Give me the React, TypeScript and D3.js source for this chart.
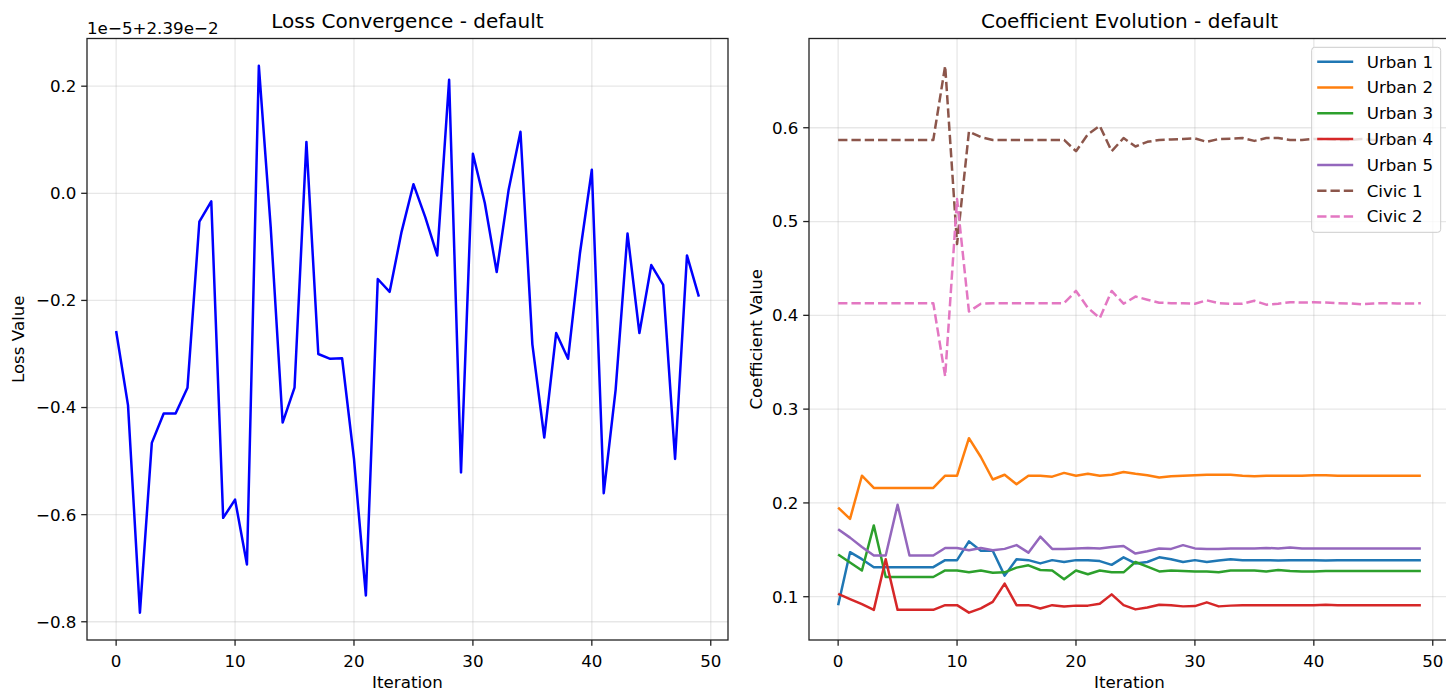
import React, { useEffect } from 'react';
import * as d3 from 'd3';

// iteration index 0..49
const iterations = d3.range(50);

// loss values shown in offset units: loss = 2.39e-2 + v * 1e-5
const lossOffset = [
  -0.257, -0.396, -0.783, -0.466, -0.411, -0.411, -0.363, -0.053, -0.015, -0.606,
  -0.572, -0.693, 0.238, -0.064, -0.428, -0.363, 0.096, -0.300, -0.309, -0.308,
  -0.496, -0.751, -0.160, -0.184, -0.072, 0.017, -0.045, -0.116, 0.212, -0.521,
  0.074, -0.018, -0.147, 0.006, 0.115, -0.282, -0.456, -0.261, -0.309, -0.112,
  0.044, -0.560, -0.367, -0.075, -0.261, -0.134, -0.171, -0.496, -0.116, -0.193,
];

const urban1 = [
  0.091, 0.1475, 0.140, 0.1315, 0.1315, 0.1315, 0.1315, 0.1315, 0.1315, 0.139,
  0.139, 0.159, 0.149, 0.149, 0.1225, 0.140, 0.139, 0.1355, 0.139, 0.137,
  0.139, 0.139, 0.138, 0.134, 0.142, 0.1355, 0.137, 0.142, 0.140, 0.137,
  0.139, 0.137, 0.1385, 0.140, 0.139, 0.139, 0.139, 0.1385, 0.139, 0.139,
  0.139, 0.1385, 0.139, 0.139, 0.139, 0.139, 0.139, 0.139, 0.139, 0.139,
];
const urban2 = [
  0.195, 0.183, 0.229, 0.216, 0.216, 0.216, 0.216, 0.216, 0.216, 0.229,
  0.229, 0.269, 0.249, 0.225, 0.230, 0.220, 0.229, 0.229, 0.228, 0.232,
  0.229, 0.231, 0.229, 0.230, 0.233, 0.231, 0.2295, 0.227, 0.2285, 0.229,
  0.2295, 0.230, 0.230, 0.230, 0.229, 0.2285, 0.229, 0.229, 0.229, 0.229,
  0.2295, 0.2295, 0.229, 0.229, 0.229, 0.229, 0.229, 0.229, 0.229, 0.229,
];
const urban3 = [
  0.145, 0.1365, 0.128, 0.176, 0.121, 0.121, 0.121, 0.121, 0.121, 0.128,
  0.128, 0.126, 0.128, 0.1255, 0.126, 0.131, 0.1335, 0.1285, 0.128, 0.1185,
  0.128, 0.124, 0.128, 0.126, 0.126, 0.137, 0.132, 0.127, 0.128, 0.1275,
  0.127, 0.127, 0.126, 0.128, 0.128, 0.128, 0.127, 0.1285, 0.1275, 0.127,
  0.127, 0.1275, 0.1275, 0.1275, 0.1275, 0.1275, 0.1275, 0.1275, 0.1275, 0.1275,
];
const urban4 = [
  0.103, 0.0975, 0.092, 0.086, 0.140, 0.086, 0.086, 0.086, 0.086, 0.091,
  0.091, 0.083, 0.0875, 0.0945, 0.114, 0.091, 0.091, 0.0875, 0.091, 0.0895,
  0.0905, 0.0905, 0.0925, 0.1025, 0.091, 0.0865, 0.0885, 0.0915, 0.091, 0.0897,
  0.090, 0.094, 0.0897, 0.0905, 0.091, 0.091, 0.091, 0.091, 0.091, 0.091,
  0.091, 0.0915, 0.091, 0.091, 0.091, 0.091, 0.091, 0.091, 0.091, 0.091,
];
const urban5 = [
  0.172, 0.163, 0.153, 0.144, 0.144, 0.198, 0.144, 0.144, 0.144, 0.152,
  0.152, 0.1495, 0.152, 0.1495, 0.151, 0.155, 0.147, 0.164, 0.151, 0.151,
  0.1515, 0.152, 0.1515, 0.153, 0.154, 0.146, 0.1485, 0.1515, 0.151, 0.155,
  0.1515, 0.151, 0.151, 0.1515, 0.1515, 0.1515, 0.152, 0.1515, 0.1525, 0.1515,
  0.1515, 0.1515, 0.1515, 0.1515, 0.1515, 0.1515, 0.1515, 0.1515, 0.1515, 0.1515,
];
const civic1 = [
  0.587, 0.587, 0.587, 0.587, 0.587, 0.587, 0.587, 0.587, 0.587, 0.666,
  0.476, 0.596, 0.590, 0.587, 0.587, 0.587, 0.587, 0.587, 0.587, 0.587,
  0.575, 0.593, 0.602, 0.575, 0.589, 0.580, 0.585, 0.587, 0.5875, 0.588,
  0.5886, 0.585, 0.588, 0.5883, 0.589, 0.586, 0.589, 0.589, 0.587, 0.587,
  0.588, 0.588, 0.587, 0.587, 0.588, 0.587, 0.587, 0.588, 0.587, 0.587,
];
const civic2 = [
  0.413, 0.413, 0.413, 0.413, 0.413, 0.413, 0.413, 0.413, 0.413, 0.335,
  0.524, 0.404, 0.4124, 0.413, 0.413, 0.413, 0.413, 0.413, 0.413, 0.413,
  0.426, 0.408, 0.397, 0.426, 0.4124, 0.420, 0.4167, 0.4135, 0.413, 0.413,
  0.4124, 0.416, 0.413, 0.4124, 0.4124, 0.4155, 0.4114, 0.4124, 0.414, 0.4136,
  0.414, 0.4136, 0.413, 0.4127, 0.4117, 0.4127, 0.413, 0.4127, 0.4127, 0.4128,
];

const seriesNames = ['Urban 1', 'Urban 2', 'Urban 3', 'Urban 4', 'Urban 5', 'Civic 1', 'Civic 2'];
const seriesValues = [urban1, urban2, urban3, urban4, urban5, civic1, civic2];
const seriesColors = ['#1f77b4', '#ff7f0e', '#2ca02c', '#d62728', '#9467bd', '#8c564b', '#e377c2'];
const seriesDashed = [false, false, false, false, false, true, true];

const xTicks = [0, 10, 20, 30, 40, 50];
const lossTicks = [-0.8, -0.6, -0.4, -0.2, 0.0, 0.2];
const coefTicks = [0.1, 0.2, 0.3, 0.4, 0.5, 0.6];

const FONT = 'DejaVu Sans, sans-serif';
const FS = 16.7; // ticks, labels, legend
const TITLE_FS = 20;
const LW = 2.5;
const DASH = '9.3,4';

const fmt = (v: number) => d3.format('.1f')(v).replace('-', '\u2212');

// matplotlib-style padded domain
const pad = (vals: number[]): [number, number] => {
  const [lo, hi] = d3.extent(vals) as [number, number];
  const m = (hi - lo) * 0.05;
  return [lo - m, hi + m];
};

interface PanelProps {
  left: number;
  top: number;
  width: number;
  height: number;
  title: string;
  yLabel: string;
  yLabelX: number;
  yTicks: number[];
  yDomain: [number, number];
  children: (x: d3.ScaleLinear<number, number>, y: d3.ScaleLinear<number, number>) => React.ReactNode;
}

const Panel: React.FC<PanelProps> = ({ left, top, width, height, title, yLabel, yLabelX, yTicks, yDomain, children }) => {
  const x = d3.scaleLinear().domain(pad([0, 49])).range([0, width]);
  const y = d3.scaleLinear().domain(yDomain).range([height, 0]);
  return (
    <g transform={`translate(${left},${top})`}>
      {/* grid */}
      {xTicks.map(t => (
        <line key={`gx${t}`} x1={x(t)} x2={x(t)} y1={0} y2={height} stroke="#b0b0b0" strokeOpacity={0.3} strokeWidth={1.3} />
      ))}
      {yTicks.map(t => (
        <line key={`gy${t}`} x1={0} x2={width} y1={y(t)} y2={y(t)} stroke="#b0b0b0" strokeOpacity={0.3} strokeWidth={1.3} />
      ))}
      {children(x, y)}
      {/* spines */}
      <rect x={0} y={0} width={width} height={height} fill="none" stroke="#222" strokeWidth={1.3} />
      {/* x ticks */}
      {xTicks.map(t => (
        <g key={`tx${t}`} transform={`translate(${x(t)},${height})`}>
          <line y1={0} y2={5.8} stroke="#222" strokeWidth={1.3} />
          <text y={27} textAnchor="middle" fontSize={FS} fontFamily={FONT} fill="#000">{t}</text>
        </g>
      ))}
      {/* y ticks */}
      {yTicks.map(t => (
        <g key={`ty${t}`} transform={`translate(0,${y(t)})`}>
          <line x1={-5.8} x2={0} stroke="#222" strokeWidth={1.3} />
          <text x={-10.5} dy="0.35em" textAnchor="end" fontSize={FS} fontFamily={FONT} fill="#000">{fmt(t)}</text>
        </g>
      ))}
      <text x={width / 2} y={-11} textAnchor="middle" fontSize={TITLE_FS} fontFamily={FONT} fill="#000">{title}</text>
      <text x={width / 2} y={height + 48} textAnchor="middle" fontSize={FS} fontFamily={FONT} fill="#000">Iteration</text>
      <text transform={`translate(${yLabelX - left},${height / 2}) rotate(-90)`}
        textAnchor="middle" fontSize={FS} fontFamily={FONT} fill="#000">{yLabel}</text>
    </g>
  );
};

const App: React.FC = () => {
  useEffect(() => {
    document.body.style.margin = '0';
  }, []);

  const top = 38.5;
  const h = 601.5;
  const w = 641;

  return (
    <svg width={1446} height={692} style={{ display: 'block', background: '#fff' }}>
      <Panel left={87} top={top} width={w} height={h} title="Loss Convergence - default" yLabel="Loss Value"
        yLabelX={24} yTicks={lossTicks} yDomain={pad(lossOffset)}>
        {(x, y) => {
          const line = d3.line<number>().x((_, i) => x(iterations[i])).y(d => y(d));
          return (
            <>
              <path d={line(lossOffset) || ''} fill="none" stroke="#0000ff" strokeWidth={LW} strokeLinejoin="round" />
              <text x={0} y={-5} fontSize={FS} fontFamily={FONT} fill="#000">1e{'\u2212'}5+2.39e{'\u2212'}2</text>
            </>
          );
        }}
      </Panel>
      <Panel left={809} top={top} width={w} height={h} title="Coefficient Evolution - default" yLabel="Coefficient Value"
        yLabelX={762} yTicks={coefTicks} yDomain={pad(seriesValues.flat())}>
        {(x, y) => {
          const line = d3.line<number>().x((_, i) => x(iterations[i])).y(d => y(d));
          const lx = 502.7;
          const ly = 8.8;
          return (
            <>
              {seriesValues.map((vals, k) => (
                <path key={seriesNames[k]} d={line(vals) || ''} fill="none" stroke={seriesColors[k]} strokeWidth={LW}
                  strokeDasharray={seriesDashed[k] ? DASH : undefined} strokeLinejoin="round" />
              ))}
              <g transform={`translate(${lx},${ly})`}>
                <rect x={0} y={0} width={129} height={185} rx={3} fill="#fff" fillOpacity={0.8} stroke="#cccccc" strokeWidth={1} />
                {seriesNames.map((name, k) => (
                  <g key={name} transform={`translate(0,${14.4 + k * 25.8})`}>
                    <line x1={5.5} x2={41.5} stroke={seriesColors[k]} strokeWidth={LW}
                      strokeDasharray={seriesDashed[k] ? DASH : undefined} />
                    <text x={55} dy="0.35em" fontSize={FS} fontFamily={FONT} fill="#000">{name}</text>
                  </g>
                ))}
              </g>
            </>
          );
        }}
      </Panel>
    </svg>
  );
};

export default App;
